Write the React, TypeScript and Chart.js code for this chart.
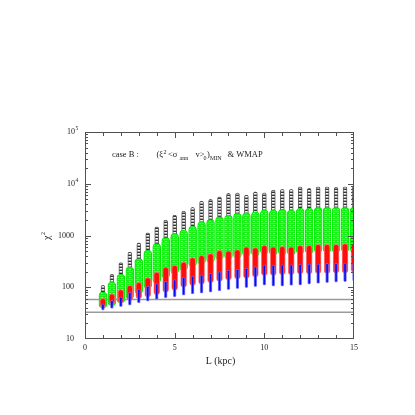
import React, { useEffect, useRef } from "react";
import { Chart, registerables } from "chart.js";

Chart.register(...registerables);

// Distance L (kpc) of each column of models
const L = [1, 1.5, 2, 2.5, 3, 3.5, 4, 4.5, 5, 5.5, 6, 6.5, 7, 7.5, 8, 8.5, 9, 9.5, 10, 10.5, 11, 11.5, 12, 12.5, 13, 13.5, 14, 14.5, 15];

// chi^2 ranges covered by each family of markers in every column
const blackTop = [109, 178, 300, 480, 720, 1120, 1470, 1980, 2470, 2960, 3490, 4620, 4980, 5610, 6510, 6700, 6040, 7000, 6700, 7550, 7780, 7780, 8750, 8150, 8750, 8750, 8510, 8750, 9000];
const blackBottom = [60, 90, 130, 180, 250, 330, 420, 520, 600, 700, 800, 900, 1000, 1100, 1150, 1200, 1250, 1300, 1400, 1400, 1450, 1450, 1500, 1500, 1550, 1550, 1550, 1600, 1600];
const greenTop = [81, 126, 178, 246, 358, 519, 700, 915, 1090, 1270, 1510, 1840, 2040, 2300, 2470, 2670, 2740, 2870, 3090, 3090, 3190, 3090, 3340, 3340, 3490, 3490, 3490, 3490, 3490];
const greenBottom = [40, 44, 50, 60, 75, 95, 120, 150, 180, 210, 250, 280, 300, 340, 350, 365, 400, 405, 440, 415, 428, 415, 448, 448, 470, 470, 470, 485, 485];
const redTop = [61, 75, 90, 109, 125, 153, 197, 246, 266, 308, 375, 415, 448, 519, 503, 535, 601, 585, 649, 601, 621, 601, 649, 649, 678, 678, 678, 700, 700];
const redBottom = [41, 46, 50, 55, 60, 65, 72, 80, 88, 100, 108, 115, 122, 130, 138, 145, 150, 158, 170, 170, 175, 175, 180, 180, 185, 185, 190, 190, 195];
const blueTop = [48, 56, 65, 80, 92, 105, 118, 130, 140, 155, 165, 175, 185, 200, 215, 225, 235, 250, 270, 270, 275, 275, 280, 285, 285, 290, 290, 295, 295];
const blueBottom = [36, 39, 42, 45, 50, 54, 58, 62, 65, 70, 74, 77, 80, 85, 90, 94, 98, 103, 110, 105, 105, 108, 110, 115, 118, 122, 125, 128, 132];

// reference chi^2 levels (horizontal lines)
const refLevels = [58, 33];

// axis labelling
const xLabelValues = [0, 5, 10, 15];
const yDecades = [10, 100, 1000, 10000, 100000];
const yDecadeLabels = [["10", ""], ["100", ""], ["1000", ""], ["10", "4"], ["10", "5"]];

const FONT = '"Liberation Serif", "DejaVu Serif", serif';

function ranges(lo: number[], hi: number[]) {
  return L.map((x, i) => ({ x, y: [lo[i], hi[i]] }));
}

function makeLadderPattern(): CanvasPattern | string {
  const pc = document.createElement("canvas");
  pc.width = 4;
  pc.height = 3;
  const g = pc.getContext("2d");
  if (!g) return "#555";
  g.fillStyle = "#f2f2f2";
  g.fillRect(0, 0, 4, 3);
  g.fillStyle = "#333333";
  g.fillRect(0, 0, 4, 1);
  g.fillStyle = "#a8a8a8";
  g.fillRect(0, 2, 4, 1);
  const p = g.createPattern(pc, "repeat");
  return p || "#555";
}

function makeGreenPattern(): CanvasPattern | string {
  const pc = document.createElement("canvas");
  pc.width = 4;
  pc.height = 4;
  const g = pc.getContext("2d");
  if (!g) return "#2ef02e";
  g.fillStyle = "#18f018";
  g.fillRect(0, 0, 4, 4);
  g.fillStyle = "#8af78a";
  g.fillRect(1, 1, 2, 1);
  g.fillStyle = "#4cf24c";
  g.fillRect(0, 3, 4, 1);
  const p = g.createPattern(pc, "repeat");
  return p || "#2ef02e";
}

const decorPlugin = {
  id: "decor",
  afterDatasetsDraw(chart: any) {
    const ctx: CanvasRenderingContext2D = chart.ctx;
    const { left, right, top, bottom } = chart.chartArea;
    const xs = chart.scales.x;
    const ys = chart.scales.y;
    ctx.save();
    ctx.strokeStyle = "#505050";
    ctx.lineWidth = 1;
    ctx.strokeRect(left + 0.5, top + 0.5, right - left - 1, bottom - top - 1);

    ctx.beginPath();
    for (let v = 1; v < 15; v++) {
      const px = Math.round(xs.getPixelForValue(v)) + 0.5;
      const len = v % 5 === 0 ? 6 : 4;
      ctx.moveTo(px, bottom);
      ctx.lineTo(px, bottom - len);
      ctx.moveTo(px, top);
      ctx.lineTo(px, top + len);
    }
    for (let d = 10; d < 100000; d *= 10) {
      for (let m = 1; m <= 9; m++) {
        const v = m * d;
        if (m === 1 && d === 10) continue;
        const py = Math.round(ys.getPixelForValue(v)) + 0.5;
        const len = m === 1 ? 6 : 3;
        ctx.moveTo(left, py);
        ctx.lineTo(left + len, py);
        ctx.moveTo(right, py);
        ctx.lineTo(right - len, py);
      }
    }
    ctx.stroke();

    ctx.fillStyle = "#222";
    // x tick labels
    ctx.font = `8px ${FONT}`;
    ctx.textAlign = "center";
    ctx.textBaseline = "middle";
    xLabelValues.forEach((v) => {
      ctx.fillText(String(v), xs.getPixelForValue(v), bottom + 9);
    });
    // y tick labels
    yDecades.forEach((v, i) => {
      const py = ys.getPixelForValue(v);
      const [base, sup] = yDecadeLabels[i];
      ctx.font = `8px ${FONT}`;
      ctx.textBaseline = "middle";
      ctx.textAlign = "right";
      if (sup) {
        ctx.fillText(base, left - 10, py);
        ctx.font = `5.5px ${FONT}`;
        ctx.textAlign = "left";
        ctx.fillText(sup, left - 9.5, py - 3);
      } else {
        ctx.fillText(base, left - 11, py);
      }
    });
    // axis titles
    ctx.font = `10px ${FONT}`;
    ctx.textAlign = "center";
    ctx.textBaseline = "middle";
    ctx.fillText("L (kpc)", (left + right) / 2 + 1, bottom + 22);
    ctx.save();
    ctx.translate(left - 38, (top + bottom) / 2 + 1);
    ctx.rotate(-Math.PI / 2);
    ctx.font = `10px ${FONT}`;
    ctx.textAlign = "right";
    ctx.fillText("χ", 1, 0);
    ctx.font = `6px ${FONT}`;
    ctx.textAlign = "left";
    ctx.fillText("2", 1.5, -4);
    ctx.restore();

    // annotation
    const by = top + 25;
    const main = `8.5px ${FONT}`;
    const small = `6px ${FONT}`;
    ctx.textBaseline = "alphabetic";
    ctx.textAlign = "left";
    const put = (s: string, x: number, dy: number, f: string) => {
      ctx.font = f;
      ctx.fillText(s, x, by + dy);
    };
    put("case B :", 112, 0, main);
    put("(ξ", 156.5, 0, main);
    put("2", 163.5, -3.5, small);
    put("<σ", 168, 0, main);
    put("ann", 179.5, 2.5, small);
    put("v>", 195.5, 0, main);
    put("0", 203.5, 2.5, small);
    put(")", 207, 0, main);
    put("MIN", 210, 2.5, small);
    put("& WMAP", 227.5, 0, main);
    ctx.restore();
  },
};

export default function App() {
  const ref = useRef<HTMLCanvasElement>(null);
  useEffect(() => {
    const canvas = ref.current;
    if (!canvas) return;
    const ladder = makeLadderPattern();
    const greenFill = makeGreenPattern();
    const bar = (
      label: string,
      lo: number[],
      hi: number[],
      thick: number,
      bg: any,
      border: string,
      order: number
    ) => ({
      type: "bar" as const,
      label,
      data: ranges(lo, hi) as any,
      grouped: false,
      barThickness: thick,
      borderRadius: thick / 2,
      borderSkipped: false as any,
      borderWidth: 1,
      backgroundColor: bg,
      borderColor: border,
      order,
    });
    const chart = new Chart(canvas, {
      type: "bar",
      data: {
        datasets: [
          bar("blue", blueBottom, blueTop, 3, "#0a0aee", "rgba(110,110,255,0.85)", 1),
          bar("red", redBottom, redTop, 6, "#ff0d0d", "rgba(255,110,110,0.95)", 2),
          bar("green", greenBottom, greenTop, 8, greenFill, "#00ec00", 3),
          bar("black", blackBottom, blackTop, 4, ladder, "#5a5a5a", 4),
          ...refLevels.map((lv) => ({
            type: "line" as const,
            label: "level " + lv,
            data: [
              { x: 0, y: lv },
              { x: 15, y: lv },
            ] as any,
            borderColor: "#9a9a9a",
            borderWidth: 1.5,
            pointRadius: 0,
            order: 5,
          })),
        ] as any,
      },
      options: {
        responsive: false,
        animation: false,
        devicePixelRatio: 1,
        layout: { padding: { left: 85, right: 61, top: 132, bottom: 76 } },
        plugins: { legend: { display: false }, tooltip: { enabled: false } },
        scales: {
          x: { type: "linear", min: 0, max: 15, offset: false, display: false },
          y: { type: "logarithmic", min: 10, max: 100000, display: false },
        },
      } as any,
      plugins: [decorPlugin],
    });
    return () => chart.destroy();
  }, []);
  return (
    <div style={{ position: "absolute", left: 0, top: 0, width: 415, height: 415, background: "#fff" }}>
      <canvas ref={ref} width={415} height={415} style={{ width: 415, height: 415, display: "block" }} />
    </div>
  );
}
